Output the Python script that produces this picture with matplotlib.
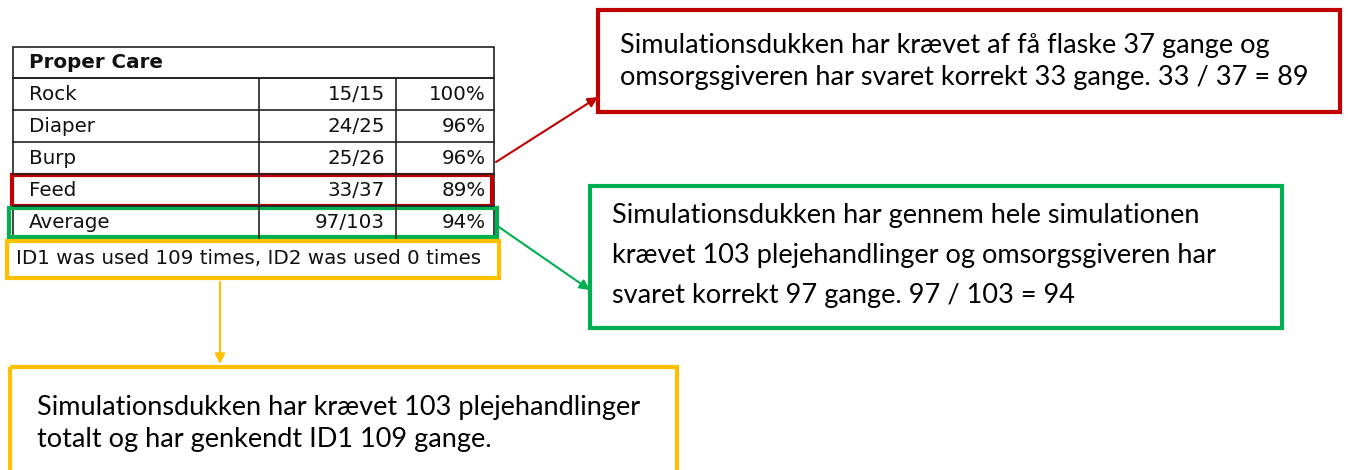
import matplotlib.pyplot as plt
from matplotlib.patches import Rectangle, FancyArrowPatch

# table data
title = 'Proper Care'
categories = ['Rock', 'Diaper', 'Burp', 'Feed', 'Average']
counts = ['15/15', '24/25', '25/26', '33/37', '97/103']
percents = ['100%', '96%', '96%', '89%', '94%']
note = 'ID1 was used 109 times, ID2 was used 0 times'

# annotation texts
red_text = ['Simulationsdukken har krævet af få flaske 37 gange og',
            'omsorgsgiveren har svaret korrekt 33 gange. 33 / 37 = 89']
green_text = ['Simulationsdukken har gennem hele simulationen',
              'krævet 103 plejehandlinger og omsorgsgiveren har',
              'svaret korrekt 97 gange. 97 / 103 = 94']
orange_text = ['Simulationsdukken har krævet 103 plejehandlinger',
               'totalt og har genkendt ID1 109 gange.']

RED = '#C00000'
GREEN = '#00B050'
ORANGE = '#FFC000'

fig = plt.figure(figsize=(13.52, 4.70), dpi=100)
ax = fig.add_axes([0, 0, 1, 1])
ax.set_xlim(0, 1352)
ax.set_ylim(470, 0)
ax.axis('off')

# table grid
x0, x1, x2, x3 = 13, 259, 396, 494
top, hh, rh = 47, 31, 32
ax.add_patch(Rectangle((x0, top), x3 - x0, hh + rh * len(categories), fill=False, ec='#222222', lw=1.2))
ax.plot([x0, x3], [top + hh, top + hh], color='#222222', lw=1.2)
for i in range(len(categories)):
    y = top + hh + rh * i
    ax.plot([x0, x3], [y, y], color='#222222', lw=1.2)
ax.plot([x1, x1], [top + hh, top + hh + rh * len(categories)], color='#222222', lw=1.2)
ax.plot([x2, x2], [top + hh, top + hh + rh * len(categories)], color='#222222', lw=1.2)

tfont = dict(family='DejaVu Sans', fontsize=14.3, va='center', color='#111111')
ax.text(29, top + hh / 2, title, fontweight='bold', **tfont)
for i, (c, n, p) in enumerate(zip(categories, counts, percents)):
    yc = top + hh + rh * i + rh / 2
    ax.text(29, yc, c, ha='left', **tfont)
    ax.text(385, yc, n, ha='right', **tfont)
    ax.text(486, yc, p, ha='right', **tfont)

# highlight boxes on the table
ax.add_patch(Rectangle((12, 175), 480, 31, fill=False, ec=RED, lw=3))
ax.add_patch(Rectangle((9, 208), 488, 29, fill=False, ec=GREEN, lw=3))
ax.add_patch(Rectangle((7, 241), 492, 37, fill=False, ec=ORANGE, lw=3))
ax.text(16, 259, note, ha='left', **tfont)

# annotation boxes
afont = dict(family='Lato', fontsize=19.5, va='center', color='black')
ax.add_patch(Rectangle((598, 10), 742, 102, fill=False, ec=RED, lw=3))
for i, line in enumerate(red_text):
    ax.text(620, 45 + 32 * i, line, **afont)

ax.add_patch(Rectangle((590, 186), 692, 142, fill=False, ec=GREEN, lw=3))
for i, line in enumerate(green_text):
    ax.text(612, 215 + 40 * i, line, **afont)

ax.add_patch(Rectangle((10, 367), 667, 120, fill=False, ec=ORANGE, lw=3))
for i, line in enumerate(orange_text):
    ax.text(37, 408 + 32 * i, line, **afont)

# arrows
for (s, e, col) in [((496, 162), (598, 97), RED),
                    ((496, 225), (590, 290), GREEN),
                    ((220, 282), (220, 364), ORANGE)]:
    ax.add_patch(FancyArrowPatch(s, e, arrowstyle='-|>', mutation_scale=15, color=col, lw=1.5, shrinkA=0, shrinkB=0))

fig.savefig('out.png', dpi=100)
